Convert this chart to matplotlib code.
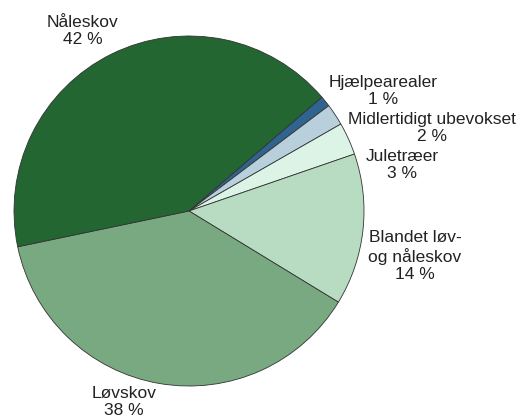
import matplotlib.pyplot as plt

labels = ['Hjælpearealer', 'Midlertidigt ubevokset', 'Juletræer',
          'Blandet løv-\nog nåleskov', 'Løvskov', 'Nåleskov']
shares = [1, 2, 3, 14, 38, 42]
colors = ['#2f6491', '#b8cfdc', '#dcf4e6', '#b8dcc1', '#78a981', '#236632']

# label centres in picture pixels (x, y from top)
label_pos = [(383, 91), (432, 128), (402, 165), (415, 256), (124, 402), (83, 31)]

W, H = 522, 420
fig = plt.figure(figsize=(W / 100, H / 100), dpi=100)
ax = fig.add_axes([0, 0, 1, 1])
ax.set_aspect('equal')
ax.axis('off')

ax.pie(shares, colors=colors, startangle=40.6, counterclock=False,
       center=(189, H - 211), radius=175,
       wedgeprops=dict(edgecolor='#333333', linewidth=0.6))
ax.set_xlim(0, W)
ax.set_ylim(0, H)

for lab, val, (x, y) in zip(labels, shares, label_pos):
    ax.text(x, H - y, f'{lab}\n{val} %', ha='center', va='center',
            fontsize=12.5, family='Liberation Sans', color='#222222',
            linespacing=1.2)

fig.savefig('out.png', dpi=100)
